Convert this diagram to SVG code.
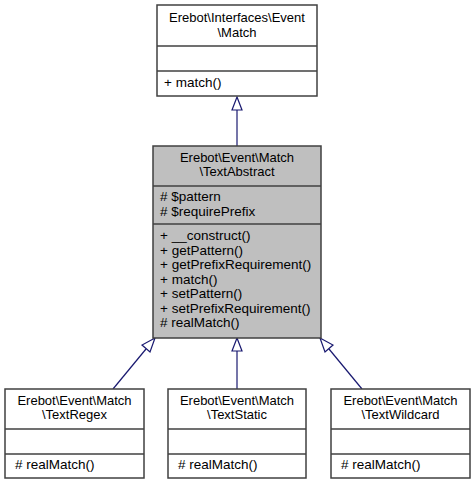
<svg xmlns="http://www.w3.org/2000/svg" width="475" height="485" viewBox="0 0 475 485">
<style>
.box{fill:#ffffff;stroke:#404040;stroke-width:1.5}
.cur{fill:#bfbfbf;stroke:#404040;stroke-width:1.5}
.div{stroke:#404040;stroke-width:1.5}
text{font-family:"Liberation Sans",Arial,sans-serif;font-size:13px;fill:#000}
.m{font-size:13.5px}
.c{text-anchor:middle}
.edge{stroke:#191970;stroke-width:1.2;fill:none}
.head{fill:#ffffff;stroke:#191970;stroke-width:1.2}
</style>
<rect width="475" height="485" fill="#ffffff"/>
<g id="connectors">
<line class="edge" x1="237" y1="146" x2="237" y2="110"/>
<polygon class="head" points="237,97 232,110 242,110"/>
<line class="edge" x1="113" y1="389" x2="146" y2="349"/>
<polygon class="head" points="155,338 142,345 150,352"/>
<line class="edge" x1="237" y1="389" x2="237" y2="351"/>
<polygon class="head" points="237,338 232,351 242,351"/>
<line class="edge" x1="362" y1="389" x2="329" y2="349"/>
<polygon class="head" points="320,338 325,352 333,345"/>
</g>
<g id="node-interface">
<rect class="box" x="157" y="5" width="160" height="91"/>
<line class="div" x1="157" y1="46" x2="317" y2="46"/>
<line class="div" x1="157" y1="71" x2="317" y2="71"/>
<text class="c" x="237" y="22">Erebot\Interfaces\Event</text>
<text class="c" x="237" y="37">\Match</text>
<text class="m" x="164" y="87">+ match()</text>
</g>
<g id="node-textabstract">
<rect class="cur" x="153" y="146" width="168" height="192"/>
<line class="div" x1="153" y1="186" x2="321" y2="186"/>
<line class="div" x1="153" y1="224" x2="321" y2="224"/>
<text class="c" x="237" y="162">Erebot\Event\Match</text>
<text class="c" x="237" y="176">\TextAbstract</text>
<text class="m" x="160" y="201"># $pattern</text>
<text class="m" x="160" y="215.5"># $requirePrefix</text>
<text class="m" x="160" y="240">+ __construct()</text>
<text class="m" x="160" y="254.5">+ getPattern()</text>
<text class="m" x="160" y="269">+ getPrefixRequirement()</text>
<text class="m" x="160" y="283.5">+ match()</text>
<text class="m" x="160" y="298">+ setPattern()</text>
<text class="m" x="160" y="312.5">+ setPrefixRequirement()</text>
<text class="m" x="160" y="327"># realMatch()</text>
</g>
<g id="node-textregex">
<rect class="box" x="5" y="389" width="139" height="89"/>
<line class="div" x1="5" y1="429" x2="144" y2="429"/>
<line class="div" x1="5" y1="454" x2="144" y2="454"/>
<text class="c" x="74.5" y="405">Erebot\Event\Match</text>
<text class="c" x="74.5" y="419">\TextRegex</text>
<text class="m" x="15" y="469"># realMatch()</text>
</g>
<g id="node-textstatic">
<rect class="box" x="168" y="389" width="138" height="89"/>
<line class="div" x1="168" y1="429" x2="306" y2="429"/>
<line class="div" x1="168" y1="454" x2="306" y2="454"/>
<text class="c" x="237" y="405">Erebot\Event\Match</text>
<text class="c" x="237" y="419">\TextStatic</text>
<text class="m" x="178" y="469"># realMatch()</text>
</g>
<g id="node-textwildcard">
<rect class="box" x="331" y="389" width="139" height="89"/>
<line class="div" x1="331" y1="429" x2="470" y2="429"/>
<line class="div" x1="331" y1="454" x2="470" y2="454"/>
<text class="c" x="400.5" y="405">Erebot\Event\Match</text>
<text class="c" x="400.5" y="419">\TextWildcard</text>
<text class="m" x="341" y="469"># realMatch()</text>
</g>
</svg>
